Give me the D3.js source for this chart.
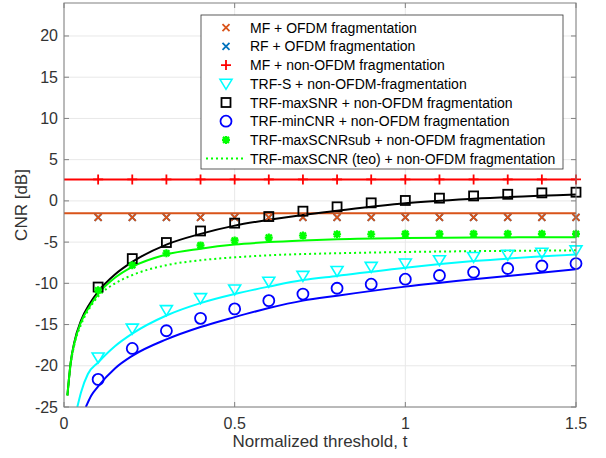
<!DOCTYPE html>
<html><head><meta charset="utf-8">
<script src="https://cdn.jsdelivr.net/npm/d3@7"></script>
<style>body{margin:0;background:#fff}svg{display:block}text{font-family:"Liberation Sans",Arial,Helvetica,sans-serif}</style>
</head><body><svg id="c" width="606" height="458"></svg>
<script>
// ---- data ----
const tMarks = [0.1,0.2,0.3,0.4,0.5,0.6,0.7,0.8,0.9,1.0,1.1,1.2,1.3,1.4,1.5];
const mfOfdm   = [-2,-2,-2,-2,-2,-2,-2,-2,-2,-2,-2,-2,-2,-2,-2];
const rfOfdm   = [-2,-2,-2,-2,-2,-2,-2,-2,-2,-2,-2,-2,-2,-2,-2];
const mfNon    = [2.6,2.6,2.6,2.6,2.6,2.6,2.6,2.6,2.6,2.6,2.6,2.6,2.6,2.6,2.6];
const trfS     = [-19.0,-15.5,-13.25,-11.8,-10.75,-9.8,-9.1,-8.5,-8.0,-7.6,-7.2,-6.8,-6.55,-6.3,-6.0];
const trfMaxSNR= [-10.45,-7.0,-5.05,-3.65,-2.7,-1.9,-1.25,-0.72,-0.24,0.05,0.33,0.6,0.8,0.97,1.05];
const trfMinCNR= [-21.65,-17.9,-15.75,-14.25,-13.1,-12.1,-11.3,-10.6,-10.1,-9.5,-9.05,-8.65,-8.2,-7.9,-7.6];
const trfSub   = [-10.85,-7.8,-6.35,-5.4,-4.8,-4.45,-4.2,-4.05,-4.05,-4.0,-4.0,-4.0,-4.0,-4.0,-4.0];
// theoretical curves
const tA = [0.01,0.02,0.03,0.05,0.075,0.1,0.15,0.2,0.3,0.4,0.5,0.6,0.7,0.8,1.0,1.2,1.5];
const thMaxSNR = [-23.6,-19.5,-17.2,-14.5,-12.5,-11.0,-8.9,-7.4,-5.3,-4.0,-3.0,-2.3,-1.7,-1.2,-0.3,0.25,0.78];
const thSub    = [-23.6,-19.5,-17.3,-14.7,-12.8,-11.3,-9.3,-8.0,-6.5,-5.8,-5.3,-5.0,-4.8,-4.65,-4.5,-4.45,-4.4];
const thTeo    = [-23.6,-19.7,-17.5,-15.0,-13.0,-11.6,-10.0,-9.0,-7.8,-7.2,-6.85,-6.6,-6.45,-6.35,-6.2,-6.1,-6.0];
const tS   = [0.039,0.05,0.07,0.1,0.15,0.2,0.3,0.4,0.5,0.6,0.7,0.8,1.0,1.2,1.5];
const thS  = [-25,-23.2,-21.0,-19.6,-17.6,-16.1,-13.9,-12.4,-11.3,-10.4,-9.6,-9.1,-8.1,-7.3,-6.5];
const tMin = [0.064,0.08,0.1,0.15,0.2,0.3,0.4,0.5,0.6,0.7,0.8,1.0,1.2,1.5];
const thMin= [-25,-23.6,-22.5,-20.3,-18.8,-16.8,-15.3,-14.1,-13.0,-12.1,-11.5,-10.4,-9.5,-8.3];
const tFlat = [0,1.5];
const mfOfdmLine = [-1.5,-1.5];
const mfNonLine  = [2.6,2.6];
const xTicks = [0,0.5,1,1.5];
const yTicks = [-25,-20,-15,-10,-5,0,5,10,15,20];
const legendLabels = ["MF + OFDM fragmentation","RF + OFDM fragmentation","MF + non-OFDM fragmentation",
 "TRF-S + non-OFDM-fragmentation","TRF-maxSNR + non-OFDM fragmentation","TRF-minCNR + non-OFDM fragmentation",
 "TRF-maxSCNRsub + non-OFDM fragmentation","TRF-maxSCNR (teo) + non-OFDM fragmentation"];

// ---- layout ----
const L=64,R=576,T=3,B=407;
const x=d3.scaleLinear().domain([0,1.5]).range([L,R]);
const y=d3.scaleLinear().domain([-25,24]).range([B,T]);
const svg=d3.select("#c");
const axisCol="#808080", textCol="#333333";

// grid
const g=svg.append("g");
g.selectAll(".gx").data(xTicks).enter().append("line").attr("x1",d=>x(d)).attr("x2",d=>x(d)).attr("y1",T).attr("y2",B).attr("stroke","#e8e8e8").attr("stroke-width",1);
g.selectAll(".gy").data(yTicks).enter().append("line").attr("y1",d=>y(d)).attr("y2",d=>y(d)).attr("x1",L).attr("x2",R).attr("stroke","#e8e8e8").attr("stroke-width",1);

// clip
svg.append("clipPath").attr("id","clip").append("rect").attr("x",L).attr("y",T).attr("width",R-L).attr("height",B-T);
const pl=svg.append("g").attr("clip-path","url(#clip)");

const line=d3.line().x(d=>x(d[0])).y(d=>y(d[1])).curve(d3.curveMonotoneX);
function curve(ts,vs,col,dash,w){
  pl.append("path").attr("d",line(ts.map((t,i)=>[t,vs[i]]))).attr("fill","none").attr("stroke",col).attr("stroke-width",w||2).attr("stroke-dasharray",dash||null);
}
curve(tFlat,mfOfdmLine,"#D95319");
curve(tFlat,mfNonLine,"#FF0000");
curve(tS,thS,"#00FFFF");
curve(tMin,thMin,"#0000FF");
curve(tA,thMaxSNR,"#000000");
curve(tA,thTeo,"#00FF00","2,3");
curve(tA,thSub,"#00FF00");

// markers
function marker(sel,type,col){
  const s=sel;
  if(type==="x"){s.append("path").attr("d","M-3.5,-3.5L3.5,3.5M-3.5,3.5L3.5,-3.5").attr("stroke",col).attr("stroke-width",1.8).attr("fill","none");}
  if(type==="+"){s.append("path").attr("d","M-5,0L5,0M0,-5L0,5").attr("stroke",col).attr("stroke-width",1.8).attr("fill","none");}
  if(type==="v"){s.append("path").attr("d","M-6,-4.5L6,-4.5L0,5.5Z").attr("stroke",col).attr("stroke-width",1.6).attr("fill","none");}
  if(type==="s"){s.append("rect").attr("x",-4.5).attr("y",-4.5).attr("width",9).attr("height",9).attr("stroke",col).attr("stroke-width",1.8).attr("fill","none");}
  if(type==="o"){s.append("circle").attr("r",5.5).attr("stroke",col).attr("stroke-width",1.8).attr("fill","none");}
  if(type==="*"){s.append("path").attr("d","M-4,0L4,0M0,-4L0,4M-3,-3L3,3M-3,3L3,-3").attr("stroke",col).attr("stroke-width",2.2).attr("fill","none");}
}
function markers(vals,type,col){
  tMarks.forEach((t,i)=>{const m=svg.append("g").attr("transform",`translate(${x(t)},${y(vals[i])})`);marker(m,type,col);});
}
markers(rfOfdm,"x","#0072BD");
markers(mfOfdm,"x","#D95319");
markers(mfNon,"+","#FF0000");
markers(trfS,"v","#00FFFF");
markers(trfMaxSNR,"s","#000000");
markers(trfMinCNR,"o","#0000FF");
markers(trfSub,"*","#00FF00");

// axes frame
svg.append("rect").attr("x",L).attr("y",T).attr("width",R-L).attr("height",B-T).attr("fill","none").attr("stroke",axisCol).attr("stroke-width",1);
const ax=svg.append("g");
xTicks.forEach(d=>{ax.append("line").attr("x1",x(d)).attr("x2",x(d)).attr("y1",B).attr("y2",B-5).attr("stroke",axisCol);
  ax.append("line").attr("x1",x(d)).attr("x2",x(d)).attr("y1",T).attr("y2",T+5).attr("stroke",axisCol);
  ax.append("text").attr("x",x(d)).attr("y",B+22).attr("text-anchor","middle").attr("font-size",16).attr("fill",textCol).text(d3.format("")(d));});
yTicks.forEach(d=>{ax.append("line").attr("x1",L).attr("x2",L+5).attr("y1",y(d)).attr("y2",y(d)).attr("stroke",axisCol);
  ax.append("line").attr("x1",R).attr("x2",R-5).attr("y1",y(d)).attr("y2",y(d)).attr("stroke",axisCol);
  ax.append("text").attr("x",L-6).attr("y",y(d)+5.5).attr("text-anchor","end").attr("font-size",16).attr("fill",textCol).text(d);});
svg.append("text").attr("x",320).attr("y",447).attr("text-anchor","middle").attr("font-size",17).attr("fill",textCol).text("Normalized threshold, t");
svg.append("text").attr("transform","translate(27,205) rotate(-90)").attr("text-anchor","middle").attr("font-size",17).attr("fill",textCol).text("CNR [dB]");

// legend
const lg=svg.append("g");
lg.append("rect").attr("x",201).attr("y",15).attr("width",362).attr("height",154).attr("fill","#fff").attr("stroke","#333").attr("stroke-width",0.8);
const lt=["x","x","+","v","s","o","*","dot"], lc=["#D95319","#0072BD","#FF0000","#00FFFF","#000000","#0000FF","#00FF00","#00FF00"];
legendLabels.forEach((lab,i)=>{
  const yy=27.7+i*18.7;
  if(lt[i]==="dot"){lg.append("line").attr("x1",206).attr("x2",246).attr("y1",yy).attr("y2",yy).attr("stroke",lc[i]).attr("stroke-width",2).attr("stroke-dasharray","2,3");}
  else{const m=lg.append("g").attr("transform",`translate(226,${yy})`);marker(m,lt[i],lc[i]);}
  lg.append("text").attr("x",250).attr("y",yy+5).attr("font-size",14).attr("fill","#000").text(lab);
});
</script></body></html>
